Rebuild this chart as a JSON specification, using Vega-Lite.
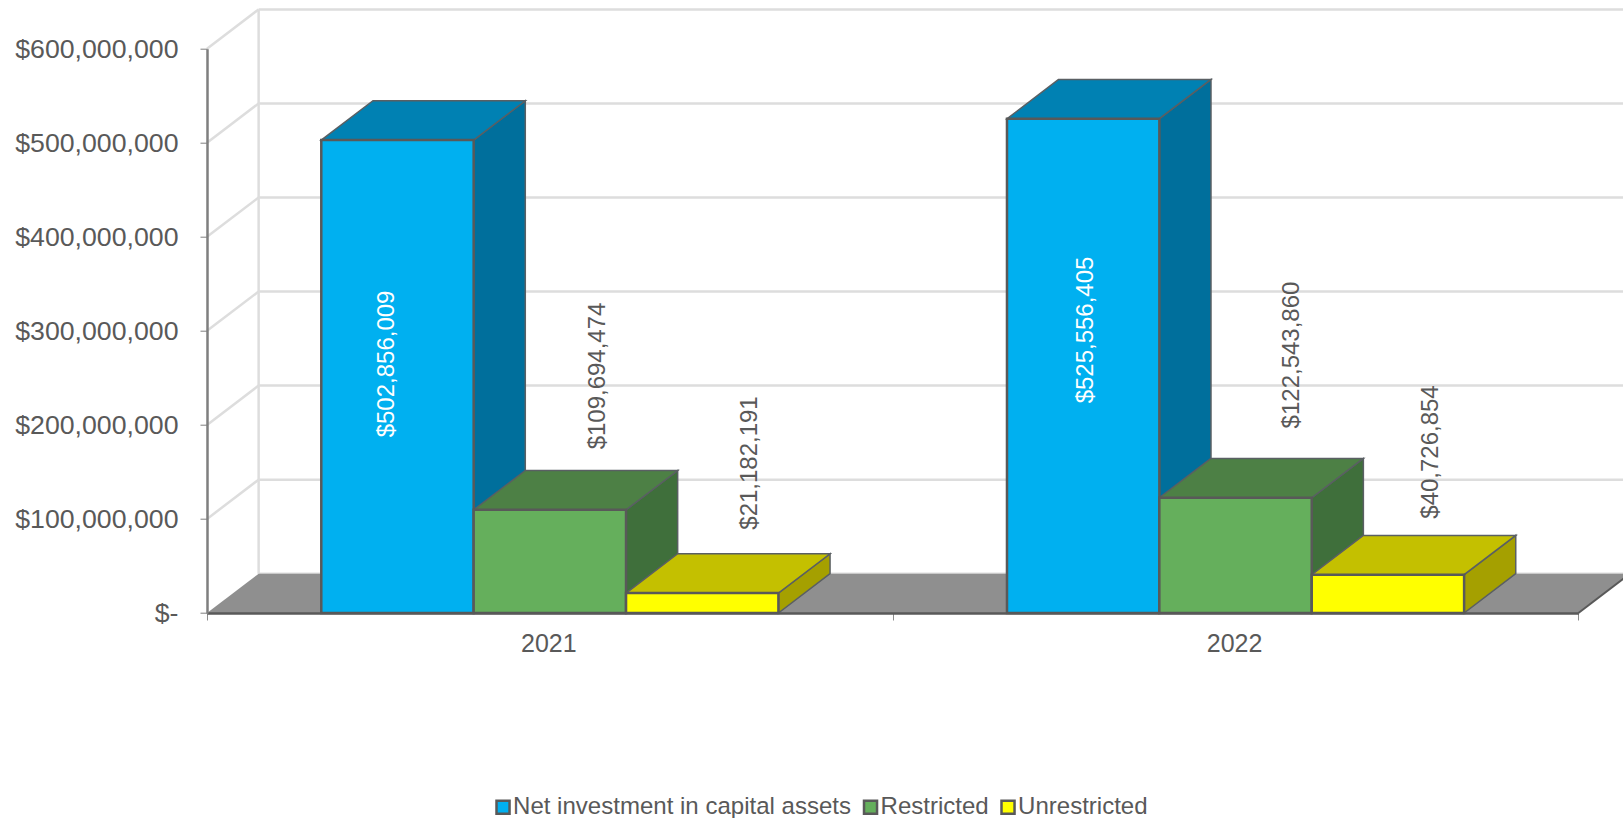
{
"$schema":"https://vega.github.io/schema/vega-lite/v6.json",
"width":1371.4,"height":564.3,
"autosize":{"type":"none"},
"padding":{"left":207,"top":48.7,"right":44.4,"bottom":205},
"background":"white",
"config":{"view":{"stroke":null},"font":"Liberation Sans"},
"datasets":{"levels":[{"level":0},{"level":100000000},{"level":200000000},{"level":300000000},{"level":400000000},{"level":500000000},{"level":600000000}]},
"data":{"values":[
{"year":2021,"series":"Net investment in capital assets","value":502856009},
{"year":2021,"series":"Restricted","value":109694474},
{"year":2021,"series":"Unrestricted","value":21182191},
{"year":2022,"series":"Net investment in capital assets","value":525556405},
{"year":2022,"series":"Restricted","value":122543860},
{"year":2022,"series":"Unrestricted","value":40726854}
]},
"transform":[
{"calculate":"datum.year-2021","as":"yi"},
{"calculate":"indexof(['Net investment in capital assets','Restricted','Unrestricted'],datum.series)","as":"si"},
{"calculate":"datum.yi+1/6+datum.si*2/9","as":"x0"},
{"calculate":"datum.x0+2/9","as":"x1"},
{"calculate":"[0,1]","as":"t"},
{"flatten":["t"]},
{"calculate":"datum.year+'|'+datum.series","as":"key"},
{"calculate":"datum.x0+datum.t*0.0753","as":"fx0"},
{"calculate":"datum.x1+datum.t*0.0753","as":"fx1"},
{"calculate":"datum.value+datum.t*41800000","as":"fyTop"},
{"calculate":"datum.t*41800000","as":"fyBase"},
{"calculate":"[0.262,0.570,0.792,1.282,1.583,1.785][datum.yi*3+datum.si]","as":"labelX"},
{"calculate":"[264800000,252000000,159500000,300900000,274300000,171200000][datum.yi*3+datum.si]","as":"labelY"},
{"calculate":"format(datum.value,'$,.0f')","as":"label"}
],
"layer":[
{"data":{"name":"levels"},"transform":[{"calculate":"datum.level+41800000","as":"back"},{"calculate":"0.0753","as":"wall"},{"calculate":"2.0753","as":"end"}],
 "mark":{"type":"rule","color":"#DDDDDD","strokeWidth":2.5},
 "encoding":{
  "x":{"field":"wall","type":"quantitative","scale":{"domain":[0,2]},"axis":{"values":[0,0.5,1,1.5,2],"title":null,"grid":false,"zindex":1,"domainColor":"#595959","domainWidth":2.5,"tickColor":"#8C8C8C","tickWidth":1,"tickSize":7,"tickOpacity":{"condition":{"test":"datum.value==0.5||datum.value==1.5","value":0},"value":1},"labelExpr":"datum.value==0.5?'2021':datum.value==1.5?'2022':''","labelFont":"Liberation Sans","labelFontSize":25,"labelColor":"#595959","labelPadding":12,"labelOffset":-1.5,"labelOverlap":false,"labelFlush":false,"labelBound":false,"labelAngle":0}},
  "x2":{"field":"end"},
  "y":{"field":"back","type":"quantitative","scale":{"domain":[0,600000000]},"axis":{"values":[0,100000000,200000000,300000000,400000000,500000000,600000000],"title":null,"grid":false,"zindex":1,"domainColor":"#7F7F7F","domainWidth":2.5,"tickColor":"#7F7F7F","tickWidth":1,"tickSize":7,"labelExpr":"datum.value===0?'$-':format(datum.value,'$,.0f')","labelFont":"Liberation Sans","labelFontSize":26.7,"labelColor":"#595959","labelPadding":22,"labelOffset":1,"labelOverlap":false,"labelFlush":false,"labelBound":false}}
 }},
{"data":{"name":"levels"},"transform":[{"filter":"datum.level>0"},{"calculate":"datum.level+41800000","as":"back"},{"calculate":"0","as":"front"},{"calculate":"0.0753","as":"wall"}],
 "mark":{"type":"rule","color":"#DDDDDD","strokeWidth":2.5},
 "encoding":{
  "x":{"field":"front","type":"quantitative","scale":{"domain":[0,2]},"axis":{"title":null}},
  "x2":{"field":"wall"},
  "y":{"field":"level","type":"quantitative","scale":{"domain":[0,600000000]},"axis":{"title":null}},
  "y2":{"field":"back"}
 }},
{"data":{"name":"levels"},"transform":[{"filter":"datum.level==600000000"},{"calculate":"datum.level+41800000","as":"back"},{"calculate":"41800000","as":"floorBack"},{"calculate":"0.0753","as":"wall"}],
 "mark":{"type":"rule","color":"#DDDDDD","strokeWidth":2.5},
 "encoding":{
  "x":{"field":"wall","type":"quantitative","scale":{"domain":[0,2]},"axis":{"title":null}},
  "y":{"field":"floorBack","type":"quantitative","scale":{"domain":[0,600000000]},"axis":{"title":null}},
  "y2":{"field":"back"}
 }},
{"data":{"name":"levels"},"transform":[{"filter":"datum.level<=100000000"},{"calculate":"datum.level/100000000","as":"t"},{"calculate":"datum.t*0.0753","as":"fl"},{"calculate":"2+datum.t*0.0753","as":"fr"},{"calculate":"datum.t*41800000","as":"fy"}],
 "mark":{"type":"area","orient":"horizontal","color":"#8F8F8F","opacity":1},
 "encoding":{
  "x":{"field":"fl","type":"quantitative","stack":null,"scale":{"domain":[0,2]},"axis":{"title":null}},
  "x2":{"field":"fr"},
  "y":{"field":"fy","type":"quantitative","scale":{"domain":[0,600000000]},"axis":{"title":null}}
 }},
{"data":{"name":"levels"},"transform":[{"filter":"datum.level==0"},{"calculate":"2","as":"a"},{"calculate":"2.0753","as":"b"},{"calculate":"41800000","as":"fb"}],
 "mark":{"type":"rule","color":"#595959","strokeWidth":2},
 "encoding":{
  "x":{"field":"a","type":"quantitative","scale":{"domain":[0,2]},"axis":{"title":null}},
  "x2":{"field":"b"},
  "y":{"field":"level","type":"quantitative","scale":{"domain":[0,600000000]},"axis":{"title":null}},
  "y2":{"field":"fb"}
 }},
{"mark":{"type":"area","stroke":"#5A5F63","strokeWidth":1.5,"opacity":1},
 "encoding":{
  "detail":{"field":"key"},
  "x":{"field":"fx1","type":"quantitative","scale":{"domain":[0,2]},"axis":{"title":null}},
  "y":{"field":"fyTop","type":"quantitative","stack":null,"scale":{"domain":[0,600000000]},"axis":{"title":null}},
  "y2":{"field":"fyBase"},
  "fill":{"field":"series","type":"nominal","legend":null,"scale":{"domain":["Net investment in capital assets","Restricted","Unrestricted"],"range":["#006F9C","#3F6F3B","#A5A000"]}}
 }},
{"mark":{"type":"area","orient":"horizontal","stroke":"#5A5F63","strokeWidth":1.5,"opacity":1},
 "encoding":{
  "detail":{"field":"key"},
  "x":{"field":"fx0","type":"quantitative","stack":null,"scale":{"domain":[0,2]},"axis":{"title":null}},
  "x2":{"field":"fx1"},
  "y":{"field":"fyTop","type":"quantitative","scale":{"domain":[0,600000000]},"axis":{"title":null}},
  "fill":{"field":"series","type":"nominal","legend":null,"scale":{"domain":["Net investment in capital assets","Restricted","Unrestricted"],"range":["#0081B3","#4D8045","#C4C000"]}}
 }},
{"transform":[{"filter":"datum.t==0"}],
 "mark":{"type":"bar","stroke":"#595959","strokeWidth":2.5,"opacity":1},
 "encoding":{
  "x":{"field":"x0","type":"quantitative","scale":{"domain":[0,2]},"axis":{"title":null}},
  "x2":{"field":"x1"},
  "y":{"field":"value","type":"quantitative","stack":null,"scale":{"domain":[0,600000000]},"axis":{"title":null}},
  "y2":{"datum":0},
  "fill":{"field":"series","type":"nominal","scale":{"domain":["Net investment in capital assets","Restricted","Unrestricted"],"range":["#00B0F0","#65AF5C","#FFFF00"]},
   "legend":{"orient":"none","legendX":284,"legendY":746,"direction":"horizontal","columns":3,"title":null,"symbolType":"square","symbolSize":170,"symbolStrokeColor":"#595959","symbolStrokeWidth":2.5,"symbolOpacity":1,"labelFont":"Liberation Sans","labelFontSize":24.05,"labelColor":"#595959","labelOffset":-2,"columnPadding":6.5,"labelLimit":500}}
 }},
{"transform":[{"filter":"datum.t==0"}],
 "mark":{"type":"text","angle":270,"font":"Liberation Sans","fontSize":24,"align":"center","baseline":"middle"},
 "encoding":{
  "x":{"field":"labelX","type":"quantitative","scale":{"domain":[0,2]},"axis":{"title":null}},
  "y":{"field":"labelY","type":"quantitative","scale":{"domain":[0,600000000]},"axis":{"title":null}},
  "text":{"field":"label"},
  "color":{"condition":{"test":"datum.si==0","value":"#FFFFFF"},"value":"#595959"}
 }}
],
"resolve":{"scale":{"fill":"independent"}}
}
